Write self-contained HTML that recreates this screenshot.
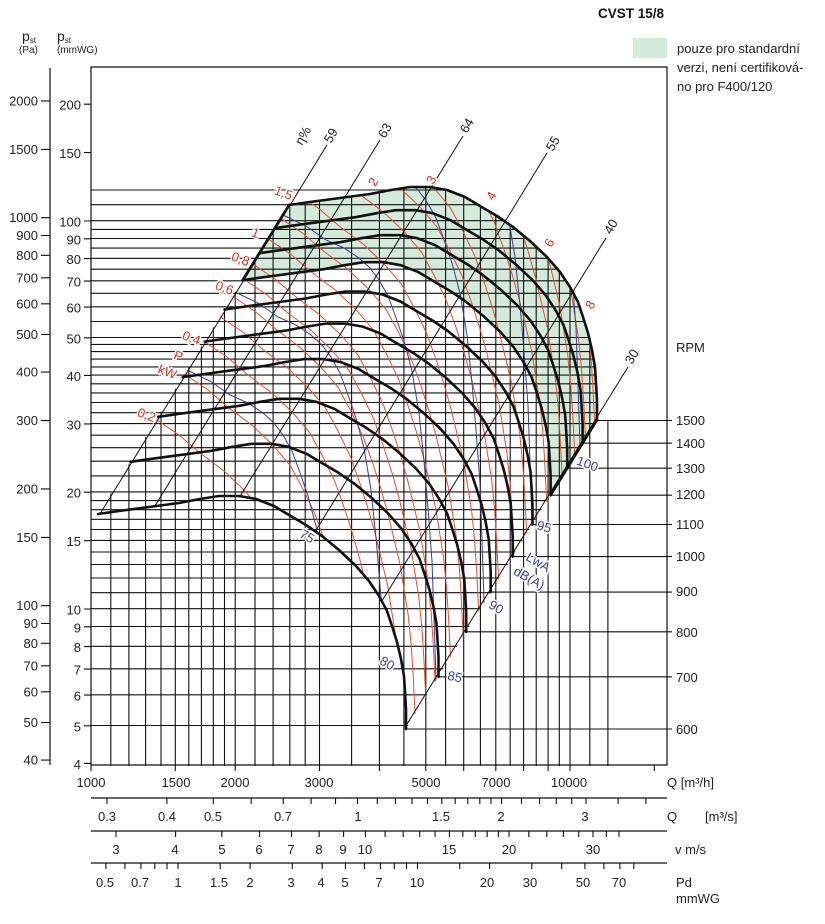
<!DOCTYPE html>
<html><head><meta charset="utf-8"><style>
html,body{margin:0;padding:0;background:#fff;}
svg{display:block;font-family:"Liberation Sans",Arial,sans-serif;}
</style></head><body>
<svg width="825" height="924" viewBox="0 0 825 924" xmlns="http://www.w3.org/2000/svg">
<defs>
<path id="c1500" d="M289,205 L310,202 L340,198 L370,194 L391,190 L410,187 L430,187 L447,190 L465,197 L480,206 L497,216 L513,227 L530,241 L547,257 L560,272 L570,287 L578,302 L583,317 L588,333 L592,350 L595,367 L596,383 L597,400 L597,420"/>
<path id="red" d="M180,323 L205,342 L227,357 L248,375 L272,393 L293,413 L310,433 L323,457 L335,482 L345,510 L353,535 L360,560 L366,585 L372,610 L376,635 L380,660 L383,690 L385,720 L388,780"/>
<path id="blue" d="M290,118 L333,138 L354,148 L374,162 L392,170 L407,180 L418,190 L427,202 L436,218 L443,237 L452,263 L460,293 L467,335 L472,383 L476,430 L480,483 L482,540 L484,600 L485,660"/>
<clipPath id="clipG"><path d="M98,514 L289,205 L310,202 L340,198 L370,194 L391,190 L410,187 L430,187 L447,190 L465,197 L480,206 L497,216 L513,227 L530,241 L547,257 L560,272 L570,287 L578,302 L583,317 L588,333 L592,350 L595,367 L596,383 L597,400 L597,420 L406,729 L406,709 L405,692 L404,676 L401,659 L397,642 L392,626 L387,611 L379,596 L369,581 L356,566 L339,550 L322,536 L306,525 L289,515 L274,506 L256,499 L239,496 L219,496 L200,499 L179,503 L149,507 L119,511 Z"/></clipPath>
<clipPath id="clipV"><path d="M91,766 L91,515 L98,514 L289,205 L310,202 L340,198 L370,194 L391,190 L410,187 L430,187 L447,190 L465,197 L480,206 L497,216 L513,227 L530,241 L547,257 L560,272 L570,287 L578,302 L583,317 L588,333 L592,350 L595,367 L596,383 L597,400 L597,420 L667,420 L667,766 Z"/></clipPath>
<clipPath id="clipH"><path d="M91,185 L432,185 L447,190 L465,197 L480,206 L497,216 L513,227 L530,241 L547,257 L560,272 L570,287 L578,302 L583,317 L588,333 L592,350 L595,367 L596,383 L597,400 L597,420 L406,729 L406,766 L91,766 Z"/></clipPath>
<clipPath id="clipEta"><path d="M98,-100 L98,514 L119,511 L149,507 L179,503 L200,499 L219,496 L239,496 L256,499 L274,506 L289,515 L306,525 L322,536 L339,550 L356,566 L369,581 L379,596 L387,611 L392,626 L397,642 L401,659 L404,676 L405,692 L406,709 L406,729 L900,729 L900,-100 Z"/></clipPath>
</defs>

<!-- green zone -->
<path fill="#d4eadb" d="M289,205 L310,202 L340,198 L370,194 L391,190 L410,187 L430,187 L447,190 L465,197 L480,206 L497,216 L513,227 L530,241 L547,257 L560,272 L570,287 L578,302 L583,317 L588,333 L592,350 L595,367 L596,383 L597,400 L597,420 L550.6,495.2 L550.6,475.2 L549.6,458.2 L548.6,442.2 L545.6,425.2 L541.6,408.2 L536.6,392.2 L531.6,377.2 L523.6,362.2 L513.6,347.2 L500.6,332.2 L483.6,316.2 L466.6,302.2 L450.6,291.2 L433.6,281.2 L418.6,272.2 L400.6,265.2 L383.6,262.2 L363.6,262.2 L344.6,265.2 L323.6,269.2 L293.6,273.2 L263.6,277.2 L242.6,280.2 Z"/>

<!-- horizontal grid -->
<g clip-path="url(#clipH)" stroke="#111" stroke-width="1.1" fill="none">
<path d="M91,190H667M91,204.7H667M91,220.7H667M91,229.4H667M91,238.5H667M91,248.1H667M91,258.3H667M91,269.2H667M91,280.8H667M91,293.3H667M91,306.8H667M91,321.5H667M91,337.5H667M91,344.4H667M91,351.6H667M91,359.1H667M91,366.9H667M91,375.1H667M91,383.8H667M91,392.9H667M91,402.5H667M91,412.7H667M91,423.6H667M91,435.2H667M91,447.7H667M91,461.2H667M91,475.9H667M91,491.9H667M91,500.6H667M91,509.7H667M91,519.3H667M91,529.5H667M91,540.4H667M91,552H667M91,564.5H667M91,578H667M91,592.7H667M91,608.7H667M91,626.5H667M91,646.3H667M91,668.8H667M91,694.8H667M91,725.5H667"/>
</g>
<!-- vertical grid -->
<g clip-path="url(#clipV)" stroke="#111" stroke-width="1.1" fill="none">
<path d="M110.8,60V766M128.9,60V766M145.6,60V766M161,60V766M175.3,60V766M188.8,60V766M201.4,60V766M213.3,60V766M224.5,60V766M235.2,60V766M255,60V766M273.1,60V766M289.8,60V766M305.2,60V766M319.5,60V766M351.6,60V766M379.4,60V766M403.9,60V766M425.8,60V766M445.6,60V766M463.7,60V766M480.4,60V766M495.8,60V766M510.2,60V766M523.6,60V766M536.2,60V766M548.1,60V766M559.3,60V766M570,60V766M589.8,60V766M607.9,60V766"/>
</g>

<!-- RPM lines -->
<g stroke="#111" stroke-width="1.1">
<path d="M597,420.5H672M582.6,443.2H672M567.2,468.2H672M550.6,495.2H672M532.5,524.5H672M512.7,556.6H672M490.7,592.1H672M466.2,631.8H672M438.5,676.8H672M406,729H672"/>
</g>

<!-- red power lines -->
<g clip-path="url(#clipG)" stroke="#e0502c" stroke-width="1" fill="none">
<use href="#red" transform="translate(-48.1,77.9)"/>
<use href="#red" transform="translate(-19.9,32.3)"/>
<use href="#red"/>
<use href="#red" transform="translate(15.5,-25.1)"/>
<use href="#red" transform="translate(28.1,-45.6)"/>
<use href="#red" transform="translate(38.8,-62.9)"/>
<use href="#red" transform="translate(48.1,-77.9)"/>
<use href="#red" transform="translate(63.5,-102.9)"/>
<use href="#red" transform="translate(76.2,-123.4)"/>
<use href="#red" transform="translate(91.7,-148.5)"/>
<use href="#red" transform="translate(111.6,-180.8)"/>
<use href="#red" transform="translate(127.1,-205.9)"/>
<use href="#red" transform="translate(139.7,-226.3)"/>
<use href="#red" transform="translate(159.7,-258.7)"/>
<use href="#red" transform="translate(175.1,-283.7)"/>
<use href="#red" transform="translate(187.8,-304.2)"/>
<use href="#red" transform="translate(198.5,-321.5)"/>
<use href="#red" transform="translate(207.7,-336.5)"/>
</g>
<!-- blue noise lines -->
<g clip-path="url(#clipG)" stroke="#3b3b94" stroke-width="1" fill="none">
<use href="#blue" transform="translate(-144,233)"/>
<use href="#blue" transform="translate(-96,155)"/>
<use href="#blue" transform="translate(-48,78)"/>
<use href="#blue"/>
<use href="#blue" transform="translate(48,-78)"/>
<use href="#blue" transform="translate(96,-155)"/>
</g>

<!-- efficiency lines -->
<g clip-path="url(#clipEta)" stroke="#111" stroke-width="1" fill="none">
<path d="M327,145 L-76,800"/>
<path d="M380,140 L-26,800"/>
<path d="M463,136 L52,800"/>
<path d="M547,153 L151,800"/>
<path d="M606,238 L259,800"/>
<path d="M628,367 L360,800"/>
</g>

<!-- fan curves -->
<g stroke="#111" stroke-width="2.6" fill="none" stroke-linejoin="round" stroke-linecap="round">
<use href="#c1500"/>
<use href="#c1500" transform="translate(-14.4,23.2)"/>
<use href="#c1500" transform="translate(-29.8,48.2)"/>
<use href="#c1500" transform="translate(-46.4,75.2)"/>
<use href="#c1500" transform="translate(-64.5,104.5)"/>
<use href="#c1500" transform="translate(-84.3,136.6)"/>
<use href="#c1500" transform="translate(-106.3,172.1)"/>
<use href="#c1500" transform="translate(-130.8,211.8)"/>
<use href="#c1500" transform="translate(-158.5,256.8)"/>
<use href="#c1500" transform="translate(-191,309)"/>
<path d="M289,205 L242.6,280.2 M597,420 L550.6,495.2"/>
</g>

<!-- frame -->
<g stroke="#111" stroke-width="1.2" fill="none">
<path d="M91,67 H667 V765 H91 Z"/>
<path d="M50,68 V765"/>
<path d="M91,798 H667 M91,831 H667 M91,863 H667"/>
</g>
<!-- ticks -->
<g stroke="#111" stroke-width="1.1">
<path d="M41,100.9H50M41,149.4H50M41,217.7H50M41,235.5H50M41,255.3H50M41,277.8H50M41,303.8H50M41,334.5H50M41,372.1H50M41,420.6H50M41,488.9H50M41,537.4H50M41,605.7H50M41,623.5H50M41,643.3H50M41,665.8H50M41,691.8H50M41,722.5H50M41,760.1H50"/>
<path d="M84,104.2H91M84,152.6H91M84,221H91M84,238.8H91M84,258.6H91M84,281.1H91M84,307.1H91M84,337.8H91M84,375.4H91M84,423.9H91M84,492.2H91M84,540.7H91M84,609H91M84,626.8H91M84,646.6H91M84,669.1H91M84,695.1H91M84,725.8H91M84,763.4H91"/>
<path d="M91,765V771M175.3,765V771M235.2,765V771M319.5,765V771M379.4,765V771M425.8,765V771M463.7,765V771M495.8,765V771M523.6,765V771M548.1,765V771M570,765V771M654.3,765V771"/>
<path d="M107,798v6M166.9,798v6M213.3,798v6M251.2,798v6M283.3,798v6M311.1,798v6M335.5,798v6M357.5,798v6M377.3,798v6M395.4,798v6M412,798v6M427.5,798v6M441.8,798v6M455.2,798v6M467.8,798v6M479.8,798v6M491,798v6M501.6,798v6M521.5,798v6M539.6,798v6M556.3,798v6M571.7,798v6M586,798v6M618.1,798v6M645.9,798v6"/>
<path d="M116,831v6M175.6,831v6M221.8,831v6M259.6,831v6M291.5,831v6M319.2,831v6M343.6,831v6M365.4,831v6M385.1,831v6M403.2,831v6M419.7,831v6M435.1,831v6M449.4,831v6M462.8,831v6M475.3,831v6M487.2,831v6M498.4,831v6M509,831v6M528.8,831v6M546.8,831v6M563.4,831v6M578.7,831v6M593,831v6M606.4,831v6M619,831v6"/>
<path d="M105.9,863v6M124.9,863v6M140.9,863v6M154.8,863v6M167,863v6M178,863v6M220.2,863v6M250.1,863v6M292.3,863v6M322.2,863v6M345.4,863v6M364.4,863v6M380.4,863v6M394.3,863v6M406.5,863v6M417.5,863v6M459.7,863v6M489.6,863v6M531.8,863v6M561.7,863v6M584.9,863v6M603.9,863v6M619.9,863v6M633.8,863v6"/>
</g>

<!-- header & legend -->
<text x="598" y="18" font-size="13.5" font-weight="bold" fill="#111">CVST 15/8</text>
<rect x="633" y="38" width="34" height="20" fill="#d4eadb"/>
<g font-size="13" fill="#222">
<text x="677" y="53">pouze pro standardní</text>
<text x="677" y="72">verzi, není certifiková-</text>
<text x="677" y="91">no pro F400/120</text>
</g>
<g fill="#222">
<text x="22" y="41" font-size="14">p<tspan font-size="8" dy="2">st</tspan></text>
<text x="19" y="53" font-size="10">(Pa)</text>
<text x="57" y="41" font-size="14">p<tspan font-size="8" dy="2">st</tspan></text>
<text x="57" y="53" font-size="10">(mmWG)</text>
</g>

<!-- left labels -->
<g font-size="13" fill="#222" text-anchor="end">
<text x="38" y="105.4">2000</text><text x="38" y="153.9">1500</text><text x="38" y="222.2">1000</text><text x="38" y="240">900</text><text x="38" y="259.8">800</text><text x="38" y="282.3">700</text><text x="38" y="308.3">600</text><text x="38" y="339">500</text><text x="38" y="376.6">400</text><text x="38" y="425.1">300</text><text x="38" y="493.4">200</text><text x="38" y="541.9">150</text><text x="38" y="610.2">100</text><text x="38" y="628">90</text><text x="38" y="647.8">80</text><text x="38" y="670.3">70</text><text x="38" y="696.3">60</text><text x="38" y="727">50</text><text x="38" y="764.6">40</text>
<text x="81" y="109.7">200</text><text x="81" y="158.1">150</text><text x="81" y="226.5">100</text><text x="81" y="244.3">90</text><text x="81" y="264.1">80</text><text x="81" y="286.6">70</text><text x="81" y="312.6">60</text><text x="81" y="343.3">50</text><text x="81" y="380.9">40</text><text x="81" y="429.4">30</text><text x="81" y="497.7">20</text><text x="81" y="546.2">15</text><text x="81" y="614.5">10</text><text x="81" y="632.3">9</text><text x="81" y="652.1">8</text><text x="81" y="674.6">7</text><text x="81" y="700.6">6</text><text x="81" y="731.3">5</text><text x="81" y="768.9">4</text>
</g>

<!-- RPM labels -->
<g font-size="13" fill="#222">
<text x="676" y="352">RPM</text>
<text x="676" y="425">1500</text><text x="676" y="448">1400</text><text x="676" y="473">1300</text><text x="676" y="499">1200</text><text x="676" y="529">1100</text><text x="676" y="561">1000</text><text x="676" y="596">900</text><text x="676" y="637">800</text><text x="676" y="682">700</text><text x="676" y="734">600</text>
</g>

<!-- bottom labels -->
<g font-size="13" fill="#222" text-anchor="middle">
<text x="91" y="787">1000</text><text x="176" y="787">1500</text><text x="235" y="787">2000</text><text x="319" y="787">3000</text><text x="426" y="787">5000</text><text x="496" y="787">7000</text><text x="569" y="787">10000</text>
<text x="107" y="821">0.3</text><text x="167" y="821">0.4</text><text x="213" y="821">0.5</text><text x="283" y="821">0.7</text><text x="358" y="821">1</text><text x="441" y="821">1.5</text><text x="501" y="821">2</text><text x="585" y="821">3</text>
<text x="116" y="854">3</text><text x="175" y="854">4</text><text x="222" y="854">5</text><text x="259" y="854">6</text><text x="291" y="854">7</text><text x="319" y="854">8</text><text x="343" y="854">9</text><text x="365" y="854">10</text><text x="449" y="854">15</text><text x="509" y="854">20</text><text x="593" y="854">30</text>
<text x="105" y="887">0.5</text><text x="140" y="887">0.7</text><text x="178" y="887">1</text><text x="219" y="887">1.5</text><text x="250" y="887">2</text><text x="291" y="887">3</text><text x="321" y="887">4</text><text x="345" y="887">5</text><text x="379" y="887">7</text><text x="417" y="887">10</text><text x="487" y="887">20</text><text x="530" y="887">30</text><text x="583" y="887">50</text><text x="619" y="887">70</text>
</g>
<g font-size="13" fill="#222">
<text x="667" y="787">Q [m³/h]</text>
<text x="667" y="821">Q</text><text x="705" y="821">[m³/s]</text>
<text x="675" y="854">v m/s</text>
<text x="676" y="887">Pd</text>
<text x="676" y="903">mmWG</text>
</g>

<!-- efficiency labels -->
<g font-size="13" fill="#222">
<text transform="translate(302,146) rotate(-60)">η%</text>
<text transform="translate(331,144) rotate(-60)">59</text>
<text transform="translate(385,139) rotate(-60)">63</text>
<text transform="translate(467,134) rotate(-60)">64</text>
<text transform="translate(553,152) rotate(-60)">55</text>
<text transform="translate(611,235) rotate(-60)">40</text>
<text transform="translate(632,365) rotate(-60)">30</text>
</g>

<!-- power labels -->
<g font-size="13" fill="#d9301c" stroke="#fff" stroke-width="3" paint-order="stroke" text-anchor="middle">
<text transform="translate(282,197) rotate(20)">1,5</text>
<text transform="translate(254,237) rotate(20)">1</text>
<text transform="translate(239,263) rotate(20)">0,8</text>
<text transform="translate(223,292) rotate(20)">0,6</text>
<text transform="translate(190,342) rotate(20)">0,4</text>
<text transform="translate(177,360) rotate(20)">P</text>
<text transform="translate(166,376) rotate(20)">kW</text>
<text transform="translate(145,419) rotate(20)">0,2</text>
<text transform="translate(377,184) rotate(-60)">2</text>
<text transform="translate(435,182) rotate(-60)">3</text>
<text transform="translate(495,198) rotate(-60)">4</text>
<text transform="translate(553,245) rotate(-60)">6</text>
<text transform="translate(594,307) rotate(-60)">8</text>
</g>

<!-- noise labels -->
<g font-size="13" fill="#3b3b94" stroke="#fff" stroke-width="3" paint-order="stroke" text-anchor="middle">
<text transform="translate(305,540) rotate(30)">75</text>
<text transform="translate(385,667) rotate(30)">80</text>
<text transform="translate(454,681) rotate(12)">85</text>
<text transform="translate(494,611) rotate(30)">90</text>
<text transform="translate(543,531) rotate(15)">95</text>
<text transform="translate(586,468) rotate(20)">100</text>
<text transform="translate(536,566) rotate(30)">LwA</text>
<text transform="translate(527,582) rotate(30)">dB(A)</text>
</g>
</svg>
</body></html>
